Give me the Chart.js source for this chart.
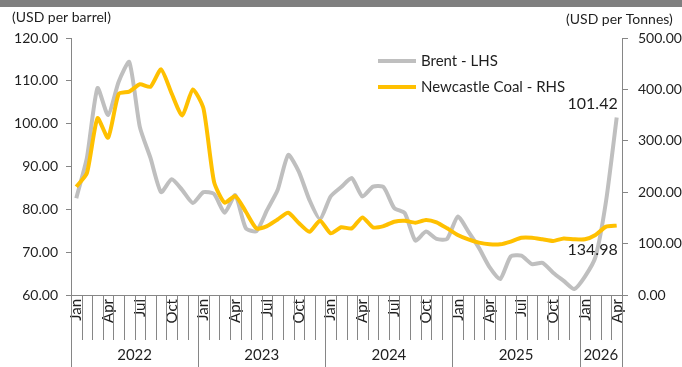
<!DOCTYPE html>
<html>
<head>
<meta charset="utf-8">
<script src="https://cdn.jsdelivr.net/npm/chart.js@4.4.1/dist/chart.umd.min.js"></script>
<style>
  html, body { margin: 0; padding: 0; background: #fff; }
  #wrap { width: 682px; height: 367px; position: relative; }
</style>
</head>
<body>
<div id="wrap"><canvas id="chart" width="682" height="367"></canvas></div>
<script>
const categories = [
  "Jan 2022", "Feb 2022", "Mar 2022", "Apr 2022", "May 2022", "Jun 2022", "Jul 2022", "Aug 2022", "Sep 2022", "Oct 2022", "Nov 2022", "Dec 2022",
  "Jan 2023", "Feb 2023", "Mar 2023", "Apr 2023", "May 2023", "Jun 2023", "Jul 2023", "Aug 2023", "Sep 2023", "Oct 2023", "Nov 2023", "Dec 2023",
  "Jan 2024", "Feb 2024", "Mar 2024", "Apr 2024", "May 2024", "Jun 2024", "Jul 2024", "Aug 2024", "Sep 2024", "Oct 2024", "Nov 2024", "Dec 2024",
  "Jan 2025", "Feb 2025", "Mar 2025", "Apr 2025", "May 2025", "Jun 2025", "Jul 2025", "Aug 2025", "Sep 2025", "Oct 2025", "Nov 2025", "Dec 2025",
  "Jan 2026", "Feb 2026", "Mar 2026", "Apr 2026"
];
const years = ["2022", "2023", "2024", "2025", "2026"];
const shownMonths = ["Jan", "Apr", "Jul", "Oct"];

// Brent, USD per barrel (left axis)
const brent = [
  82.6, 92, 108.3, 102, 109.8, 114.4, 99.2, 92, 84, 87, 84.5, 81.5,
  84, 83.6, 79.2, 83.3, 75.6, 74.9, 79.8, 84.5, 92.7, 88.8, 82.2, 77.7,
  83, 85.2, 87.3, 83, 85.3, 85.2, 80.3, 79.1, 72.7, 74.8, 73.1, 73.1,
  78.3, 74.8, 71, 66.5, 63.7, 69, 69.2, 67.2, 67.5, 65.2, 63.3, 61.4,
  64.3, 68.9, 82, 101.42
];
// Newcastle coal, USD per tonne (right axis)
const coal = [
  210.7, 237, 344, 306, 391, 395.6, 410, 405, 439, 392, 349, 400,
  363, 220, 179.6, 192.6, 162, 129.7, 134, 147, 160, 140, 123, 144.6,
  120, 131.7, 129.7, 151, 131.7, 134, 142.6, 144.6, 140.7, 146, 141.4, 129.7,
  116.7, 108, 101.8, 98.6, 98.6, 104, 111.5, 111.5, 108.3, 105, 110, 108.3,
  108.3, 116.7, 133, 134.98
];

const brentTicks = [60, 70, 80, 90, 100, 110, 120];
const coalTicks = [0, 100, 200, 300, 400, 500];

const FONT = "Lato, 'Open Sans', sans-serif";
const TEXT = "#1f1f1f";
const AXIS = "#868686";
const GREY = "#BFBFBF";
const GOLD = "#FFC000";

// header strip, axis unit captions
const framePlugin = {
  id: "frame",
  beforeDraw(chart) {
    const ctx = chart.ctx;
    ctx.save();
    ctx.fillStyle = "#7F7F7F";
    ctx.fillRect(0, 0, chart.width, 7);
    ctx.fillStyle = TEXT;
    ctx.font = "14px " + FONT;
    ctx.textBaseline = "middle";
    ctx.textAlign = "left";
    ctx.fillText("(USD per barrel)", 12, 17);
    ctx.fillText("(USD per Tonnes)", 566, 19);
    ctx.restore();
  }
};

// month tick marks, year separators and year names under the x axis
const yearAxisPlugin = {
  id: "yearAxis",
  afterDraw(chart) {
    const x = chart.scales.x;
    const ctx = chart.ctx;
    const top = chart.chartArea.bottom;
    ctx.save();
    ctx.strokeStyle = AXIS;
    ctx.lineWidth = 1;
    for (let i = 0; i <= categories.length; i++) {
      const px = Math.round(x.getPixelForValue(i - 0.5)) + 0.5;
      const isYear = i % 12 === 0 || i === categories.length;
      ctx.beginPath();
      ctx.moveTo(px, top);
      ctx.lineTo(px, isYear ? chart.height : top + 45);
      ctx.stroke();
    }
    ctx.fillStyle = TEXT;
    ctx.font = "15px " + FONT;
    ctx.textAlign = "center";
    ctx.textBaseline = "middle";
    years.forEach((yr, k) => {
      const first = k * 12;
      const last = Math.min(first + 11, categories.length - 1);
      const a = x.getPixelForValue(first - 0.5);
      const b = x.getPixelForValue(last + 0.5);
      ctx.fillText(yr, (a + b) / 2, top + 60);
    });
    ctx.restore();
  }
};

// legend inside the plot and the values at the last month
const notesPlugin = {
  id: "notes",
  afterDatasetsDraw(chart) {
    const ctx = chart.ctx;
    ctx.save();
    ctx.font = "15px " + FONT;
    ctx.textBaseline = "middle";
    ctx.textAlign = "left";
    chart.data.datasets.forEach((ds, k) => {
      const y = 61 + k * 26;
      ctx.strokeStyle = ds.borderColor;
      ctx.lineWidth = 4;
      ctx.beginPath();
      ctx.moveTo(378, y);
      ctx.lineTo(416, y);
      ctx.stroke();
      ctx.fillStyle = TEXT;
      ctx.fillText(ds.label, 421, y);
    });

    ctx.font = "16px " + FONT;
    ctx.textAlign = "right";
    const bMeta = chart.getDatasetMeta(0);
    const bPt = bMeta.data[bMeta.data.length - 1];
    ctx.textBaseline = "bottom";
    ctx.fillText(brent[brent.length - 1].toFixed(2), bPt.x + 1, bPt.y - 6);
    const cMeta = chart.getDatasetMeta(1);
    const cPt = cMeta.data[cMeta.data.length - 1];
    ctx.textBaseline = "top";
    ctx.fillText(coal[coal.length - 1].toFixed(2), cPt.x + 1, cPt.y + 16);
    ctx.restore();
  }
};

new Chart(document.getElementById("chart"), {
  type: "line",
  data: {
    labels: categories,
    datasets: [
      {
        label: "Brent - LHS",
        data: brent,
        yAxisID: "y",
        borderColor: GREY,
        borderWidth: 4,
        pointRadius: 0,
        tension: 0.2,
        order: 1
      },
      {
        label: "Newcastle Coal - RHS",
        data: coal,
        yAxisID: "y1",
        borderColor: GOLD,
        borderWidth: 4,
        pointRadius: 0,
        tension: 0.2,
        order: 0
      }
    ]
  },
  options: {
    responsive: false,
    animation: false,
    layout: { padding: { top: 38, left: 0, right: 0, bottom: 0 } },
    plugins: {
      legend: { display: false },
      tooltip: { enabled: false }
    },
    scales: {
      x: {
        type: "category",
        offset: true,
        grid: { display: false, drawTicks: false },
        border: { display: true, color: AXIS, width: 1 },
        ticks: {
          autoSkip: false,
          minRotation: 90,
          maxRotation: 90,
          padding: 4,
          color: TEXT,
          font: { family: FONT, size: 15 },
          callback: function (value) {
            const m = this.getLabelForValue(value).split(" ")[0];
            return shownMonths.includes(m) ? m : "";
          }
        },
        afterFit: (s) => { s.height = 72; }
      },
      y: {
        position: "left",
        min: 60,
        max: 120,
        afterBuildTicks: (s) => { s.ticks = brentTicks.map((v) => ({ value: v })); },
        grid: { drawOnChartArea: false, drawTicks: true, tickLength: 5, color: AXIS },
        border: { display: true, color: AXIS, width: 1 },
        ticks: {
          padding: 8,
          color: TEXT,
          font: { family: FONT, size: 14 },
          callback: (v) => Number(v).toFixed(2)
        },
        afterFit: (s) => { s.width = 71; }
      },
      y1: {
        position: "right",
        min: 0,
        max: 500,
        afterBuildTicks: (s) => { s.ticks = coalTicks.map((v) => ({ value: v })); },
        grid: { drawOnChartArea: false, drawTicks: true, tickLength: 6, color: AXIS },
        border: { display: true, color: AXIS, width: 1 },
        ticks: {
          padding: 10,
          color: TEXT,
          font: { family: FONT, size: 14 },
          callback: (v) => Number(v).toFixed(2)
        },
        afterFit: (s) => { s.width = 60; }
      }
    }
  },
  plugins: [framePlugin, yearAxisPlugin, notesPlugin]
});
</script>
</body>
</html>
